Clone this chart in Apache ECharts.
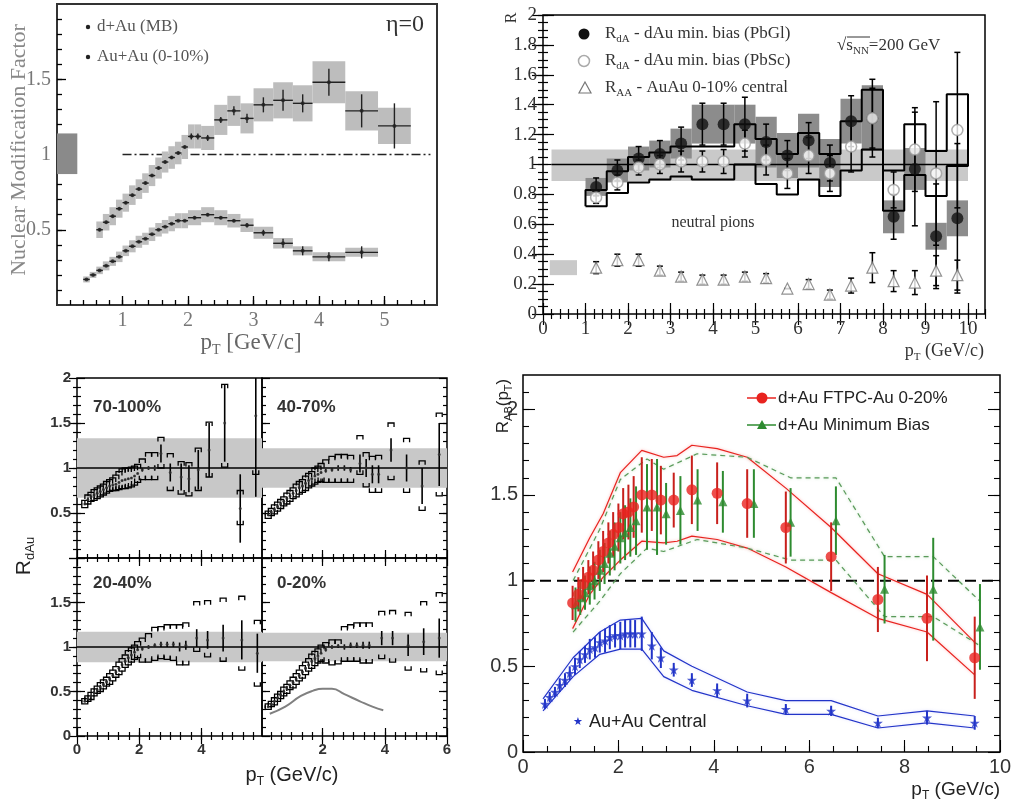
<!DOCTYPE html>
<html>
<head>
<meta charset="utf-8">
<title>Nuclear modification factors</title>
<script src="https://cdn.jsdelivr.net/npm/echarts@6/dist/echarts.min.js"></script>
<style>
  html, body { margin: 0; padding: 0; background: #fff; }
  #chart { width: 1014px; height: 805px; }
</style>
</head>
<body>
<div id="chart"></div>
<script>
// ---------- top left: d+Au (MB) and Au+Au (0-10%), eta = 0 ----------
const tlDauPt   = [0.65,0.75,0.85,0.95,1.05,1.15,1.25,1.35,1.45,1.55,1.65,1.75,1.85,1.95,2.05,2.15,2.3,2.5,2.7,2.9,3.15,3.45,3.75,4.15,4.65,5.15];
const tlDauR    = [0.5,0.55,0.59,0.64,0.68,0.73,0.77,0.81,0.86,0.91,0.95,0.98,1.01,1.05,1.12,1.12,1.11,1.23,1.29,1.24,1.33,1.36,1.34,1.48,1.29,1.19];
const tlDauStat = [0.01,0.01,0.01,0.01,0.01,0.01,0.01,0.01,0.01,0.01,0.01,0.01,0.01,0.01,0.02,0.02,0.02,0.02,0.03,0.03,0.05,0.07,0.06,0.09,0.11,0.15];
const tlDauBin  = [0.05,0.05,0.05,0.05,0.05,0.05,0.05,0.05,0.05,0.05,0.05,0.05,0.05,0.05,0.05,0.05,0.1,0.1,0.1,0.1,0.15,0.15,0.15,0.25,0.25,0.25];
const tlDauSys  = [0.055,0.055,0.06,0.06,0.06,0.065,0.065,0.065,0.07,0.07,0.07,0.075,0.075,0.08,0.08,0.08,0.08,0.1,0.1,0.1,0.11,0.12,0.12,0.14,0.13,0.12];

const tlAuPt   = [0.45,0.55,0.65,0.75,0.85,0.95,1.05,1.15,1.25,1.35,1.45,1.55,1.65,1.75,1.85,1.95,2.1,2.3,2.5,2.7,2.9,3.15,3.45,3.75,4.15,4.65];
const tlAuR    = [0.17,0.2,0.23,0.26,0.29,0.32,0.36,0.39,0.42,0.44,0.47,0.5,0.52,0.54,0.56,0.56,0.58,0.6,0.58,0.56,0.53,0.48,0.41,0.36,0.32,0.35];
const tlAuStat = [0.005,0.005,0.005,0.005,0.005,0.005,0.005,0.005,0.005,0.005,0.005,0.005,0.005,0.005,0.005,0.005,0.01,0.01,0.01,0.01,0.015,0.02,0.03,0.03,0.03,0.04];
const tlAuBin  = [0.05,0.05,0.05,0.05,0.05,0.05,0.05,0.05,0.05,0.05,0.05,0.05,0.05,0.05,0.05,0.05,0.1,0.1,0.1,0.1,0.1,0.15,0.15,0.15,0.25,0.25];
const tlAuSys  = [0.02,0.02,0.025,0.03,0.03,0.035,0.035,0.04,0.04,0.04,0.045,0.045,0.045,0.05,0.05,0.05,0.05,0.05,0.05,0.045,0.045,0.04,0.035,0.03,0.03,0.03];

const tlNormBox = [0, 0.31, 0.87, 1.14];   // x0, x1, y0, y1
const tlUnityPt = [1.0, 5.7];

// ---------- top right: neutral pions ----------
const trPt     = [1.25,1.75,2.25,2.75,3.25,3.75,4.25,4.75,5.25,5.75,6.25,6.75,7.25,7.75,8.25,8.75,9.25,9.75];
const trHalf   = 0.25;
const trGl     = [0.85,0.96,1.04,1.07,1.14,1.27,1.27,1.27,1.15,1.06,1.16,1.01,1.29,1.31,0.65,0.97,0.52,0.64];
const trGlErr  = [0.06,0.07,0.08,0.09,0.11,0.14,0.14,0.18,0.12,0.1,0.12,0.12,0.17,0.26,0.15,0.38,0.35,0.5];
const trGlSys  = [0.06,0.08,0.08,0.09,0.1,0.13,0.13,0.13,0.17,0.15,0.18,0.16,0.15,0.22,0.11,0.14,0.09,0.12];
const trSc     = [0.78,0.88,0.98,1.0,1.02,1.02,1.02,1.14,1.03,0.94,1.06,0.94,1.12,1.31,0.83,1.1,0.94,1.23];
const trScErr  = [0.04,0.05,0.05,0.06,0.07,0.07,0.08,0.09,0.1,0.1,0.12,0.12,0.17,0.2,0.12,0.28,0.48,0.52];
const trScLo   = [0.72,0.81,0.88,0.9,0.92,0.9,0.9,1.0,0.87,0.8,0.9,0.79,0.96,1.1,0.69,0.93,0.79,0.99];
const trScHi   = [0.83,0.955,1.05,1.08,1.12,1.12,1.12,1.27,1.17,1.07,1.21,1.07,1.29,1.5,0.96,1.27,1.09,1.47];
const trAA     = [0.31,0.36,0.36,0.29,0.25,0.23,0.23,0.25,0.24,0.17,0.2,0.13,0.19,0.31,0.22,0.21,0.29,0.26];
const trAAErr  = [0.04,0.04,0.04,0.03,0.03,0.03,0.03,0.03,0.03,0,0.03,0.03,0.05,0.1,0.07,0.08,0.1,0.1];
const trBand   = [0.2, 10, 0.89, 1.1];
const trAABox  = [0.16, 0.8, 0.26, 0.36];

// ---------- bottom left: R_dAu in centrality classes ----------
const blPtA   = [0.25,0.35,0.45,0.55,0.65,0.75,0.85,0.95,1.05,1.15,1.25,1.35,1.45,1.55,1.65,1.75,1.85,1.95,2.1,2.3,2.5,2.7,3.0,3.35,3.6,3.9,4.25,4.75,5.25,5.75];
const blRA    = [0.6,0.65,0.68,0.7,0.72,0.74,0.76,0.78,0.8,0.81,0.82,0.84,0.86,0.87,0.88,0.89,0.91,0.94,0.98,1.0,1.0,1.16,0.95,0.9,0.88,0.98,1.2,1.5,0.55,1.58];
const blStatA = [0.01,0.01,0.01,0.01,0.01,0.01,0.01,0.01,0.01,0.01,0.01,0.01,0.01,0.01,0.01,0.01,0.01,0.01,0.02,0.02,0.03,0.1,0.1,0.15,0.15,0.22,0.3,0.43,0.38,0.9];
const blUpA   = [0.04,0.05,0.05,0.06,0.06,0.06,0.06,0.07,0.07,0.08,0.1,0.12,0.13,0.13,0.12,0.12,0.11,0.1,0.12,0.17,0.17,0.18,0.21,0.17,0.18,0.24,0.31,0.43,0.2,0.8];
const blDnA   = [0.04,0.05,0.05,0.06,0.06,0.06,0.06,0.06,0.06,0.06,0.07,0.08,0.09,0.1,0.1,0.1,0.1,0.1,0.11,0.13,0.13,0.16,0.2,0.19,0.19,0.23,0.3,0.49,0.18,0.65];
const blBandA = [0.67, 1.33];

const blPtB   = [0.25,0.35,0.45,0.55,0.65,0.75,0.85,0.95,1.05,1.15,1.25,1.35,1.45,1.55,1.65,1.75,1.85,1.95,2.1,2.3,2.5,2.7,2.9,3.2,3.4,3.6,3.8,4.2,4.7,5.2,5.75];
const blRB    = [0.48,0.51,0.54,0.57,0.6,0.63,0.66,0.69,0.72,0.75,0.78,0.8,0.83,0.86,0.88,0.91,0.93,0.95,0.97,0.98,1.0,1.0,0.98,1.05,1.0,0.93,0.93,1.2,1.0,0.8,1.15];
const blStatB = [0.01,0.01,0.01,0.01,0.01,0.01,0.01,0.01,0.01,0.01,0.01,0.01,0.01,0.01,0.01,0.01,0.01,0.01,0.02,0.02,0.03,0.03,0.03,0.1,0.1,0.1,0.1,0.13,0.15,0.2,0.35];
const blUpB   = [0.04,0.04,0.05,0.05,0.05,0.05,0.06,0.06,0.06,0.07,0.07,0.07,0.08,0.08,0.08,0.09,0.09,0.1,0.12,0.15,0.15,0.15,0.16,0.31,0.17,0.2,0.21,0.3,0.33,0.28,0.46];
const blDnB   = [0.04,0.04,0.05,0.05,0.05,0.05,0.06,0.06,0.06,0.07,0.07,0.07,0.08,0.08,0.08,0.09,0.09,0.1,0.13,0.14,0.16,0.16,0.14,0.12,0.21,0.2,0.2,0.33,0.27,0.27,0.46];
const blBandB = [0.78, 1.22];

const blPtC   = [0.25,0.35,0.45,0.55,0.65,0.75,0.85,0.95,1.05,1.15,1.25,1.35,1.45,1.55,1.65,1.75,1.85,1.95,2.1,2.3,2.5,2.7,2.9,3.1,3.3,3.5,3.85,4.2,4.7,5.3,5.8];
const blRC    = [0.39,0.42,0.45,0.49,0.52,0.55,0.58,0.61,0.64,0.68,0.72,0.76,0.8,0.84,0.88,0.91,0.94,0.97,0.98,1.0,1.02,1.03,1.03,1.03,1.0,1.02,1.1,1.08,1.1,1.08,0.93];
const blStatC = [0.01,0.01,0.01,0.01,0.01,0.01,0.01,0.01,0.01,0.01,0.01,0.01,0.01,0.01,0.01,0.01,0.01,0.01,0.02,0.02,0.02,0.03,0.03,0.03,0.05,0.05,0.1,0.1,0.15,0.22,0.22];
const blUpC   = [0.03,0.03,0.04,0.04,0.04,0.05,0.05,0.05,0.06,0.06,0.06,0.07,0.07,0.07,0.08,0.08,0.08,0.09,0.12,0.15,0.2,0.2,0.22,0.22,0.25,0.25,0.41,0.44,0.45,0.49,0.37];
const blDnC   = [0.03,0.03,0.04,0.04,0.04,0.05,0.05,0.05,0.06,0.06,0.06,0.07,0.07,0.07,0.08,0.08,0.08,0.09,0.15,0.17,0.17,0.16,0.17,0.18,0.2,0.22,0.15,0.19,0.26,0.34,0.37];
const blBandC = [0.83, 1.17];

const blPtD   = [0.25,0.35,0.45,0.55,0.65,0.75,0.85,0.95,1.05,1.15,1.25,1.35,1.45,1.55,1.65,1.75,1.85,1.95,2.1,2.3,2.5,2.7,2.9,3.1,3.3,3.5,3.9,4.25,4.75,5.25,5.75];
const blRD    = [0.33,0.36,0.39,0.43,0.46,0.5,0.53,0.57,0.6,0.64,0.68,0.72,0.76,0.8,0.84,0.87,0.9,0.93,0.97,1.0,1.01,1.0,1.02,1.02,1.02,1.02,1.1,1.1,1.02,1.06,1.1];
const blStatD = [0.01,0.01,0.01,0.01,0.01,0.01,0.01,0.01,0.01,0.01,0.01,0.01,0.01,0.01,0.01,0.01,0.01,0.01,0.02,0.02,0.02,0.03,0.03,0.03,0.04,0.04,0.08,0.08,0.12,0.15,0.22];
const blUpD   = [0.03,0.03,0.04,0.04,0.04,0.05,0.05,0.05,0.06,0.06,0.06,0.07,0.07,0.07,0.08,0.08,0.08,0.09,0.08,0.08,0.07,0.23,0.23,0.25,0.25,0.25,0.3,0.31,0.37,0.45,0.51];
const blDnD   = [0.03,0.03,0.04,0.04,0.04,0.05,0.05,0.05,0.06,0.06,0.06,0.07,0.07,0.07,0.08,0.08,0.08,0.09,0.15,0.2,0.2,0.16,0.18,0.18,0.2,0.2,0.23,0.27,0.28,0.34,0.41];
const blBandD = [0.84, 1.16];
const blCurvePt = [0.3,0.8,1.3,1.7,2.0,2.3,2.7,3.2,3.6,3.95];
const blCurveR  = [0.25,0.33,0.45,0.51,0.53,0.53,0.47,0.39,0.33,0.29];

// ---------- bottom right: R_AB(pT) ----------
const brRedPt  = [1.04,1.16,1.26,1.37,1.47,1.58,1.68,1.79,1.89,2.0,2.1,2.21,2.32,2.49,2.7,2.89,3.16,3.54,4.07,4.7,5.51,6.46,7.44,8.47,9.47];
const brRedR   = [0.87,0.92,0.98,1.02,1.06,1.12,1.17,1.22,1.27,1.31,1.39,1.4,1.43,1.5,1.5,1.47,1.47,1.53,1.51,1.45,1.31,1.14,0.89,0.78,0.55];
const brRedErr = [0.1,0.1,0.1,0.1,0.11,0.11,0.12,0.12,0.13,0.14,0.15,0.16,0.18,0.22,0.21,0.2,0.16,0.2,0.18,0.2,0.21,0.2,0.19,0.25,0.24];
const brGreenPt  = [1.1,1.2,1.3,1.4,1.5,1.61,1.71,1.82,1.92,2.04,2.14,2.25,2.37,2.6,2.81,3.0,3.3,3.66,4.19,4.84,5.61,6.56,7.58,8.6,9.58];
const brGreenR   = [0.86,0.9,0.93,0.97,1.0,1.06,1.1,1.16,1.2,1.25,1.28,1.31,1.35,1.43,1.43,1.39,1.41,1.47,1.46,1.45,1.34,1.35,0.95,0.95,0.73];
const brGreenErr = [0.1,0.1,0.1,0.11,0.11,0.12,0.12,0.13,0.14,0.15,0.16,0.17,0.2,0.25,0.28,0.18,0.2,0.18,0.18,0.2,0.2,0.2,0.2,0.3,0.25];
const brBluePt  = [0.46,0.56,0.67,0.77,0.88,0.98,1.09,1.19,1.3,1.4,1.51,1.61,1.72,1.82,1.93,2.04,2.14,2.25,2.35,2.49,2.7,2.89,3.16,3.54,4.07,4.7,5.51,6.46,7.44,8.47,9.47];
const brBlueR   = [0.28,0.32,0.35,0.39,0.42,0.46,0.5,0.54,0.57,0.6,0.61,0.64,0.65,0.67,0.68,0.68,0.69,0.69,0.69,0.69,0.62,0.55,0.48,0.42,0.36,0.3,0.25,0.24,0.17,0.2,0.17];
const brBlueErr = [0.03,0.03,0.03,0.04,0.04,0.04,0.05,0.05,0.05,0.06,0.06,0.06,0.07,0.07,0.07,0.08,0.08,0.08,0.08,0.1,0.08,0.06,0.04,0.04,0.04,0.04,0.03,0.03,0.03,0.04,0.04];

const brRedBandPt = [1.04,1.4,1.68,2.04,2.49,2.95,3.23,3.54,4.07,4.7,5.51,6.46,7.44,8.47,9.47];
const brRedUp     = [1.05,1.25,1.39,1.63,1.76,1.72,1.73,1.79,1.77,1.72,1.54,1.31,1.04,0.92,0.64];
const brRedLo     = [0.72,0.92,1.02,1.12,1.23,1.22,1.23,1.26,1.24,1.19,1.08,0.93,0.78,0.7,0.45];
const brGreenBandPt = [1.05,1.61,2.04,2.6,2.95,3.65,4.7,5.61,6.56,7.58,8.6,9.58];
const brGreenUp     = [1.0,1.3,1.59,1.71,1.65,1.74,1.72,1.6,1.6,1.14,1.14,0.88];
const brGreenLo     = [0.7,0.88,1.04,1.19,1.17,1.24,1.19,1.12,1.12,0.79,0.79,0.62];
const brBlueBandPt = [0.42,1.05,1.61,2.04,2.49,2.95,3.54,4.7,5.51,6.46,7.44,8.47,9.47];
const brBlueUp     = [0.31,0.55,0.7,0.77,0.78,0.59,0.5,0.35,0.3,0.3,0.21,0.24,0.21];
const brBlueLo     = [0.24,0.44,0.57,0.6,0.6,0.44,0.36,0.27,0.22,0.22,0.14,0.17,0.14];

// ================= layout =================
const serif = 'Liberation Serif', sans = 'Liberation Sans';
const grids = [
  { left: 57, top: 4, width: 380, height: 301, borderColor: '#333', borderWidth: 2 },  // top left
  { left: 543, top: 15, width: 442, height: 299 },   // top right
  { left: 77, top: 378, width: 185, height: 180 },   // 70-100%
  { left: 262, top: 378, width: 185, height: 180 },  // 40-70%
  { left: 77, top: 558, width: 185, height: 178 },   // 20-40%
  { left: 262, top: 558, width: 185, height: 178 },  // 0-20%
  { left: 523, top: 375, width: 477, height: 377 }   // bottom right
];

const xAxes = [], yAxes = [], gx = [], gy = [];

function steps(a, b, s) {
  const out = [];
  for (let i = 0; a + i * s <= b + 1e-9; i++) out.push(+(a + i * s).toFixed(4));
  return out;
}

function tickAxis(gi, pos, r, vals, len, lw, labels, font) {
  const lab = labels && labels.length;
  return {
    type: 'value', gridIndex: gi, position: pos, min: r[0], max: r[1],
    axisLine: { show: false }, splitLine: { show: false },
    axisTick: { show: vals.length > 0, inside: true, length: len, customValues: vals, lineStyle: { color: '#000', width: lw } },
    axisLabel: lab ? Object.assign({ show: true, customValues: labels, formatter: v => String(+(+v).toFixed(2)) }, font) : { show: false }
  };
}

function frameAxes(gi, xr, yr, o) {
  gx[gi] = xAxes.length;
  xAxes.push(tickAxis(gi, 'bottom', xr, o.xMaj, o.maj, o.lw, o.xLab, o.font));
  xAxes.push(tickAxis(gi, 'bottom', xr, o.xMin, o.min, o.lw));
  if (o.top) {
    xAxes.push(tickAxis(gi, 'top', xr, o.xMaj, o.maj, o.lw));
    xAxes.push(tickAxis(gi, 'top', xr, o.xMin, o.min, o.lw));
  }
  gy[gi] = yAxes.length;
  yAxes.push(tickAxis(gi, 'left', yr, o.yMaj, o.maj, o.lw, o.yLab, o.font));
  yAxes.push(tickAxis(gi, 'left', yr, o.yMin, o.min, o.lw));
  if (o.right) {
    yAxes.push(tickAxis(gi, 'right', yr, o.yMaj, o.maj, o.lw));
    yAxes.push(tickAxis(gi, 'right', yr, o.yMin, o.min, o.lw));
  }
}

const tlFont = { fontFamily: serif, fontSize: 20, color: '#777', margin: 6 };
frameAxes(0, [0, 5.8], [0, 2], {
  xMaj: [1, 2, 3, 4, 5], xMin: steps(0.2, 5.6, 0.2), yMaj: [0.5, 1, 1.5], yMin: steps(0.1, 1.9, 0.1),
  xLab: [1, 2, 3, 4, 5], yLab: [0.5, 1, 1.5], maj: 9, min: 5, lw: 1.3, font: tlFont
});
const trFont = { fontFamily: serif, fontSize: 19, color: '#333', margin: 6 };
frameAxes(1, [0, 10.4], [0, 2], {
  xMaj: steps(0, 10, 1), xMin: steps(0.2, 10.4, 0.2), yMaj: steps(0, 2, 0.2), yMin: steps(0.05, 2, 0.05),
  xLab: steps(0, 10, 1), yLab: steps(0, 2, 0.2), maj: 11, min: 5, lw: 1.2, top: true, right: true, font: trFont
});
const blFont = { fontFamily: sans, fontSize: 15, fontWeight: 'bold', color: '#333', margin: 6 };
const blXr = [[0, 5.95], [0.05, 6], [0, 5.95], [0.05, 6]];
[2, 3, 4, 5].forEach((gi, k) => {
  const xr = blXr[k];
  const maj = [0, 2, 4, 6].filter(v => v >= xr[0] && v <= xr[1]);
  const xLab = gi === 4 ? [0, 2, 4] : gi === 5 ? [2, 4, 6] : [];
  const yLab = gi === 2 ? [0.5, 1, 1.5, 2] : gi === 4 ? [0, 0.5, 1, 1.5] : [];
  frameAxes(gi, xr, [0, 2], {
    xMaj: maj, xMin: steps(1 / 3, 5.9, 1 / 3).filter(v => v > xr[0]), yMaj: steps(0, 2, 0.5), yMin: steps(0.1, 1.9, 0.1),
    xLab, yLab, maj: 8, min: 4, lw: 1.2, top: true, right: true, font: blFont
  });
});
const brFont = { fontFamily: sans, fontSize: 20, color: '#333', margin: 5 };
frameAxes(6, [0, 10], [0, 2.2], {
  xMaj: steps(0, 10, 2), xMin: steps(0.5, 9.5, 0.5), yMaj: steps(0, 2, 0.5), yMin: steps(0.1, 2.1, 0.1),
  xLab: steps(0, 10, 2), yLab: steps(0, 2, 0.5), maj: 12, min: 6, lw: 1.1, right: true, font: brFont
});

// ================= series helpers =================
function line(p1, p2, color, lw) {
  return { type: 'line', shape: { x1: p1[0], y1: p1[1], x2: p2[0], y2: p2[1] }, style: { stroke: color, lineWidth: lw } };
}

// data item: [x, y, yLow, yHigh, xLow, xHigh]
function errSeries(gi, data, color, lw, cap, z) {
  return {
    type: 'custom', xAxisIndex: gx[gi], yAxisIndex: gy[gi], z, clip: true, silent: true, data,
    renderItem(params, api) {
      const x = api.value(0), y = api.value(1);
      const a = api.coord([x, api.value(2)]), b = api.coord([x, api.value(3)]);
      const c = api.coord([api.value(4), y]), d = api.coord([api.value(5), y]);
      const ch = [line(a, b, color, lw)];
      if (d[0] - c[0] > 0.5) ch.push(line(c, d, color, lw));
      if (cap) {
        ch.push(line([a[0] - cap, a[1]], [a[0] + cap, a[1]], color, lw));
        ch.push(line([b[0] - cap, b[1]], [b[0] + cap, b[1]], color, lw));
      }
      return { type: 'group', children: ch };
    }
  };
}

// data item: [x0, x1, y0, y1]
function boxSeries(gi, data, fill, z) {
  return {
    type: 'custom', xAxisIndex: gx[gi], yAxisIndex: gy[gi], z, clip: true, silent: true, data,
    renderItem(params, api) {
      const p0 = api.coord([api.value(0), api.value(3)]), p1 = api.coord([api.value(1), api.value(2)]);
      return { type: 'rect', shape: { x: p0[0], y: p0[1], width: p1[0] - p0[0], height: p1[1] - p0[1] }, style: { fill } };
    }
  };
}

// data item: [x, low, high]  -> square brackets at both ends
function bracketSeries(gi, data, z) {
  return {
    type: 'custom', xAxisIndex: gx[gi], yAxisIndex: gy[gi], z, clip: true, silent: true, data,
    renderItem(params, api) {
      const x = api.value(0);
      const t = api.coord([x, api.value(2)]), b = api.coord([x, api.value(1)]);
      const w = 3, h = 4;
      return { type: 'group', children: [
        { type: 'polyline', shape: { points: [[t[0] - w, t[1] + h], [t[0] - w, t[1]], [t[0] + w, t[1]], [t[0] + w, t[1] + h]] }, style: { stroke: '#000', lineWidth: 1.3, fill: null } },
        { type: 'polyline', shape: { points: [[b[0] - w, b[1] - h], [b[0] - w, b[1]], [b[0] + w, b[1]], [b[0] + w, b[1] - h]] }, style: { stroke: '#000', lineWidth: 1.3, fill: null } }
      ] };
    }
  };
}

function dots(gi, xs, ys, symbol, size, itemStyle, z) {
  return { type: 'scatter', xAxisIndex: gx[gi], yAxisIndex: gy[gi], data: xs.map((x, i) => [x, ys[i]]),
    symbol, symbolSize: size, itemStyle, z, silent: true };
}

function lineSeries(gi, pts, lineStyle, z, smooth) {
  return { type: 'line', xAxisIndex: gx[gi], yAxisIndex: gy[gi], data: pts, symbol: 'none', lineStyle,
    z, silent: true, smooth: !!smooth, clip: true };
}

const series = [];

// ----- top left -----
series.push(lineSeries(0, tlUnityPt.map(x => [x, 1]), { color: '#222', width: 1.5, type: [9, 3, 2, 3] }, 1));
series.push(boxSeries(0, tlDauPt.map((x, i) => [x - tlDauBin[i], x + tlDauBin[i], tlDauR[i] - tlDauSys[i], tlDauR[i] + tlDauSys[i]]), '#bdbdbd', 2));
series.push(boxSeries(0, tlAuPt.map((x, i) => [x - tlAuBin[i], x + tlAuBin[i], tlAuR[i] - tlAuSys[i], tlAuR[i] + tlAuSys[i]]), '#bdbdbd', 2));
series.push(boxSeries(0, [tlNormBox], '#8a8a8a', 2));
series.push(errSeries(0, tlDauPt.map((x, i) => [x, tlDauR[i], tlDauR[i] - tlDauStat[i], tlDauR[i] + tlDauStat[i], x - tlDauBin[i], x + tlDauBin[i]]), '#222', 1.4, 0, 4));
series.push(errSeries(0, tlAuPt.map((x, i) => [x, tlAuR[i], tlAuR[i] - tlAuStat[i], tlAuR[i] + tlAuStat[i], x - tlAuBin[i], x + tlAuBin[i]]), '#222', 1.4, 0, 4));
series.push(dots(0, tlDauPt, tlDauR, 'circle', 4, { color: '#222' }, 5));
series.push(dots(0, tlAuPt, tlAuR, 'circle', 4, { color: '#222' }, 5));

// ----- top right -----
function stepOutline(xs, half, lo, hi) {
  const up = [], dn = [];
  xs.forEach((x, i) => { up.push([x - half, hi[i]], [x + half, hi[i]]); dn.push([x - half, lo[i]], [x + half, lo[i]]); });
  return [[xs[0] - half, lo[0]]].concat(up, dn.reverse());
}
series.push(boxSeries(1, [trBand, trAABox], '#c9c9c9', 1));
series.push(boxSeries(1, trPt.map((x, i) => [x - trHalf, x + trHalf, trGl[i] - trGlSys[i], trGl[i] + trGlSys[i]]), '#8c8c8c', 2));
series.push(lineSeries(1, [[trBand[0], 1], [trBand[1], 1]], { color: '#000', width: 1.5 }, 3));
series.push(lineSeries(1, stepOutline(trPt, trHalf, trScLo, trScHi), { color: '#000', width: 2 }, 4));
series.push(errSeries(1, trPt.map((x, i) => [x, trGl[i], trGl[i] - trGlErr[i], trGl[i] + trGlErr[i], x, x]), '#000', 1.5, 3, 5));
series.push(errSeries(1, trPt.map((x, i) => [x, trSc[i], trSc[i] - trScErr[i], trSc[i] + trScErr[i], x, x]), '#000', 1.5, 3, 5));
series.push(errSeries(1, trPt.map((x, i) => [x, trAA[i], trAA[i] - trAAErr[i], trAA[i] + trAAErr[i], x, x]), '#000', 1.5, 3, 5));
series.push(dots(1, trPt, trGl, 'circle', 12, { color: '#111' }, 6));
series.push(dots(1, trPt, trSc, 'circle', 11, { color: '#fff', borderColor: '#9a9a9a', borderWidth: 1.5 }, 6));
series.push(dots(1, trPt, trAA, 'triangle', 11, { color: '#fff', borderColor: '#777', borderWidth: 1.2 }, 6));

// ----- bottom left -----
const blPanels = [
  { gi: 2, pt: blPtA, r: blRA, stat: blStatA, up: blUpA, dn: blDnA, band: blBandA },
  { gi: 3, pt: blPtB, r: blRB, stat: blStatB, up: blUpB, dn: blDnB, band: blBandB },
  { gi: 4, pt: blPtC, r: blRC, stat: blStatC, up: blUpC, dn: blDnC, band: blBandC },
  { gi: 5, pt: blPtD, r: blRD, stat: blStatD, up: blUpD, dn: blDnD, band: blBandD }
];
blPanels.forEach((p, k) => {
  const xr = blXr[k];
  series.push(boxSeries(p.gi, [[xr[0], xr[1], p.band[0], p.band[1]]], '#c8c8c8', 1));
  series.push(lineSeries(p.gi, [[xr[0], 1], [xr[1], 1]], { color: '#000', width: 1.5 }, 3));
  series.push(bracketSeries(p.gi, p.pt.map((x, i) => [x, p.r[i] - p.dn[i], p.r[i] + p.up[i]]), 4));
  series.push(errSeries(p.gi, p.pt.map((x, i) => [x, p.r[i], p.r[i] - p.stat[i], p.r[i] + p.stat[i], x, x]), '#000', 1.6, 0, 5));
  series.push(dots(p.gi, p.pt, p.r, 'circle', 3, { color: '#333' }, 6));
});
series.push(lineSeries(5, blCurvePt.map((x, i) => [x, blCurveR[i]]), { color: '#808080', width: 2 }, 3, true));

// ----- bottom right -----
const red = '#e8231f', green = '#2e8b30', blue = '#2234c8';
const star = 'path://M50,0 L61,35 98,35 68,57 79,91 50,70 21,91 32,57 2,35 39,35 Z';
series.push(lineSeries(6, [[0, 1], [10, 1]], { color: '#000', width: 2, type: [11, 6] }, 1));
const bandStyle = (c, dashed) => ({ color: c, width: 1.2, type: dashed ? [5, 4] : 'solid', shadowColor: 'rgba(180,180,255,0.5)', shadowBlur: 3 });
series.push(lineSeries(6, brRedBandPt.map((x, i) => [x, brRedUp[i]]), Object.assign(bandStyle(red), { shadowColor: 'rgba(255,140,140,0.7)' }), 2));
series.push(lineSeries(6, brRedBandPt.map((x, i) => [x, brRedLo[i]]), Object.assign(bandStyle(red), { shadowColor: 'rgba(255,140,140,0.7)' }), 2));
series.push(lineSeries(6, brGreenBandPt.map((x, i) => [x, brGreenUp[i]]), Object.assign(bandStyle('#5a9a5a', true), { shadowColor: 'rgba(140,200,140,0.6)' }), 2));
series.push(lineSeries(6, brGreenBandPt.map((x, i) => [x, brGreenLo[i]]), Object.assign(bandStyle('#5a9a5a', true), { shadowColor: 'rgba(140,200,140,0.6)' }), 2));
series.push(lineSeries(6, brBlueBandPt.map((x, i) => [x, brBlueUp[i]]), bandStyle(blue), 2));
series.push(lineSeries(6, brBlueBandPt.map((x, i) => [x, brBlueLo[i]]), bandStyle(blue), 2));
series.push(errSeries(6, brGreenPt.map((x, i) => [x, brGreenR[i], brGreenR[i] - brGreenErr[i], brGreenR[i] + brGreenErr[i], x, x]), green, 2, 0, 4));
series.push(errSeries(6, brRedPt.map((x, i) => [x, brRedR[i], brRedR[i] - brRedErr[i], brRedR[i] + brRedErr[i], x, x]), '#c8201c', 2, 0, 4));
series.push(errSeries(6, brBluePt.map((x, i) => [x, brBlueR[i], brBlueR[i] - brBlueErr[i], brBlueR[i] + brBlueErr[i], x, x]), blue, 2, 0, 4));
series.push(dots(6, brGreenPt, brGreenR, 'triangle', 9, { color: green }, 5));
series.push(dots(6, brRedPt, brRedR, 'circle', 11, { color: red }, 6));
series.push(dots(6, brBluePt, brBlueR, star, 10, { color: blue }, 6));

// ================= texts =================
function rich(family, size, color, weight) {
  return {
    n: { fontFamily: family, fontSize: size, fill: color, fontWeight: weight || 'normal', lineHeight: size + 5 },
    s: { fontFamily: family, fontSize: Math.round(size * 0.62), fill: color, fontWeight: weight || 'normal', lineHeight: Math.round(size * 0.62), verticalAlign: 'bottom' }
  };
}
function txt(x, y, text, r, align, rot) {
  return { type: 'text', x, y, rotation: rot || 0, silent: true, z: 100,
    style: { text, rich: r, align: align || 'left', verticalAlign: 'middle' } };
}
const gfx = [
  // top left
  { type: 'circle', shape: { cx: 88, cy: 27, r: 2.2 }, style: { fill: '#222' }, silent: true },
  { type: 'circle', shape: { cx: 88, cy: 57, r: 2.2 }, style: { fill: '#222' }, silent: true },
  txt(97, 27, '{n|d+Au (MB)}', rich(serif, 17, '#555')),
  txt(97, 57, '{n|Au+Au (0-10%)}', rich(serif, 17, '#555')),
  txt(405, 25, '{n|η=0}', rich(serif, 24, '#333'), 'center'),
  txt(19, 150, '{n|Nuclear Modification Factor}', rich(serif, 22, '#888'), 'center', Math.PI / 2),
  txt(251, 343, '{n|p}{s|T}{n| [GeV/c]}', rich(serif, 23, '#666'), 'center'),
  // top right
  { type: 'circle', shape: { cx: 584, cy: 34, r: 5.5 }, style: { fill: '#111' }, silent: true },
  { type: 'circle', shape: { cx: 584, cy: 61, r: 5.5 }, style: { fill: '#fff', stroke: '#aaa', lineWidth: 1.5 }, silent: true },
  { type: 'polygon', shape: { points: [[585, 82], [591, 93], [579, 93]] }, style: { fill: '#fff', stroke: '#777', lineWidth: 1.2 }, silent: true },
  txt(605, 34, '{n|R}{s|dA}{n| - dAu min. bias (PbGl)}', rich(serif, 17, '#333')),
  txt(605, 61, '{n|R}{s|dA}{n| - dAu min. bias (PbSc)}', rich(serif, 17, '#333')),
  txt(605, 88, '{n|R}{s|AA}{n| - AuAu 0-10% central}', rich(serif, 17, '#333')),
  txt(837, 46, '{n|√s}{s|NN}{n|=200 GeV}', rich(serif, 17, '#333')),
  { type: 'line', shape: { x1: 847, y1: 37, x2: 870, y2: 37 }, style: { stroke: '#333', lineWidth: 1 }, silent: true },
  txt(713, 223, '{n|neutral pions}', rich(serif, 16, '#333'), 'center'),
  txt(512, 18, '{n|R}', rich(serif, 16, '#333'), 'center', Math.PI / 2),
  txt(984, 351, '{n|p}{s|T}{n| (GeV/c)}', rich(serif, 18, '#333'), 'right'),
  // bottom left
  txt(93, 407, '{n|70-100%}', rich(sans, 17, '#333', 'bold')),
  txt(277, 407, '{n|40-70%}', rich(sans, 17, '#333', 'bold')),
  txt(93, 583, '{n|20-40%}', rich(sans, 17, '#333', 'bold')),
  txt(277, 583, '{n|0-20%}', rich(sans, 17, '#333', 'bold')),
  txt(24, 556, '{n|R}{s|dAu}', rich(sans, 21, '#222'), 'center', Math.PI / 2),
  txt(292, 775, '{n|p}{s|T}{n| (GeV/c)}', rich(sans, 20, '#222'), 'center'),
  // bottom right
  { type: 'line', shape: { x1: 747, y1: 398, x2: 776, y2: 398 }, style: { stroke: red, lineWidth: 1.5 }, silent: true },
  { type: 'circle', shape: { cx: 762, cy: 398, r: 5.5 }, style: { fill: red }, silent: true },
  { type: 'line', shape: { x1: 747, y1: 425, x2: 776, y2: 425 }, style: { stroke: green, lineWidth: 1.5 }, silent: true },
  { type: 'polygon', shape: { points: [[762, 420], [767, 429], [757, 429]] }, style: { fill: green }, silent: true },
  txt(778, 398, '{n|d+Au FTPC-Au 0-20%}', rich(sans, 17, '#222')),
  txt(778, 425, '{n|d+Au Minimum Bias}', rich(sans, 17, '#222')),
  txt(578, 722, '{n|★}', rich('DejaVu Sans', 11, blue), 'center'),
  txt(589, 722, '{n|Au+Au Central}', rich(sans, 18, '#222')),
  txt(503, 406, '{n|R}{s|AB}{n|(p}{s|T}{n|)}', rich(sans, 17, '#222'), 'center', Math.PI / 2),
  txt(1000, 790, '{n|p}{s|T}{n| (GeV/c)}', rich(sans, 19, '#222'), 'right')
];

const chart = echarts.init(document.getElementById('chart'), null, { renderer: 'canvas' });
chart.setOption({
  animation: false,
  backgroundColor: '#fff',
  grid: grids.map(g => Object.assign({ show: true, backgroundColor: 'transparent', borderColor: '#000', borderWidth: 1.5, outerBoundsMode: 'none' }, g)),
  xAxis: xAxes,
  yAxis: yAxes,
  series,
  graphic: { elements: gfx }
});
</script>
</body>
</html>
